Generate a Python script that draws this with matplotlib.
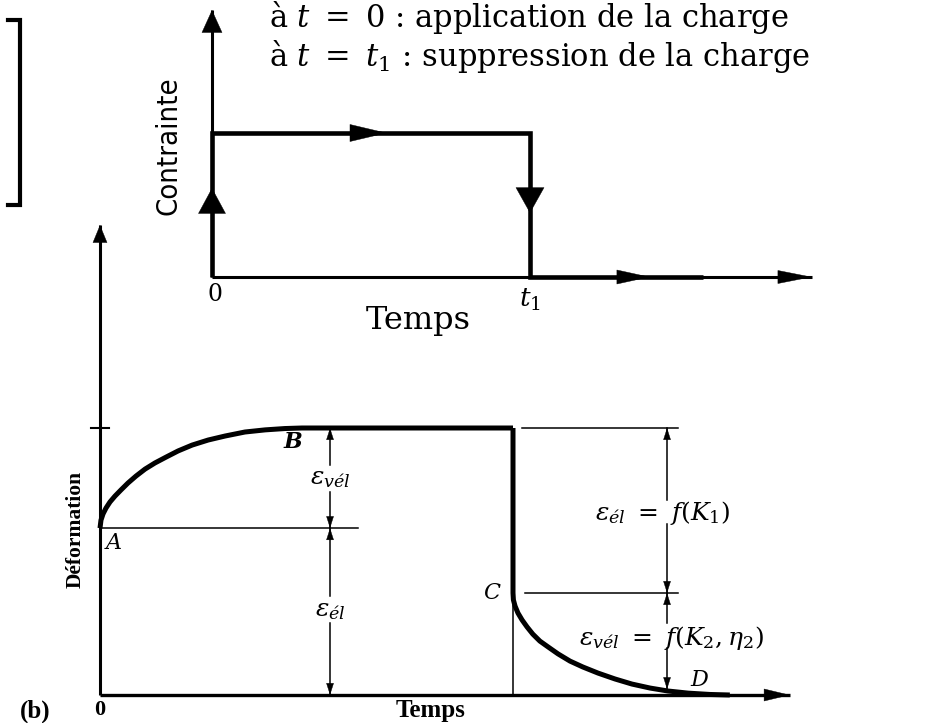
import matplotlib
matplotlib.use("Agg")
import matplotlib.pyplot as plt
from matplotlib.patches import FancyArrowPatch
from matplotlib.lines import Line2D

plt.rcParams['mathtext.fontset'] = 'dejavuserif'

# ---- (a) stress step: load applied at t = 0, removed at t = t1 ----
stress_time = [0.0, 0.0, 1.0, 1.0, 1.544]
stress_level = [0.0, 1.0, 1.0, 0.0, 0.0]
t1 = 1.0

# ---- (b) strain response ----
eps_A = 0.625          # instantaneous elastic strain (point A)
eps_B = 1.0            # strain at the end of loading (point B)
eps_C = 0.382          # strain right after unloading (point C)
eps_D = 0.022          # residual strain at D

creep_time = [0.0, 0.0024, 0.0073, 0.0145, 0.0242, 0.0363, 0.0508, 0.0678, 0.0872,
              0.109, 0.133, 0.160, 0.189, 0.223, 0.262, 0.303, 0.351, 0.400, 0.448,
              0.489, 1.0]
creep_strain = [0.625, 0.655, 0.678, 0.700, 0.723, 0.745, 0.768, 0.794, 0.820,
                0.846, 0.869, 0.891, 0.914, 0.936, 0.955, 0.970, 0.985, 0.993, 0.998,
                1.0, 1.0]

recovery_time = [1.0, 1.0, 1.001, 1.005, 1.012, 1.022, 1.034, 1.048, 1.065, 1.085,
                 1.109, 1.138, 1.169, 1.206, 1.247, 1.288, 1.332, 1.375, 1.424,
                 1.477, 1.525]
recovery_strain = [1.0, 0.382, 0.356, 0.333, 0.307, 0.281, 0.255, 0.228, 0.202, 0.180,
                   0.154, 0.127, 0.105, 0.082, 0.060, 0.041, 0.026, 0.015, 0.007,
                   0.002, 0.0]

W, H = 944, 723
fig = plt.figure(figsize=(W / 100, H / 100), dpi=100)
fig.patch.set_facecolor('white')


def head(ax, tip, direction, length_px, width_px, lw=0.3):
    """Filled arrow head with its tip at `tip`, pointing along `direction`."""
    dx, dy = direction
    base = (tip[0] - dx, tip[1] - dy)
    style = f"-|>,head_length={length_px * 0.72:.2f},head_width={width_px * 0.36:.2f}"
    ax.add_patch(FancyArrowPatch(base, tip, arrowstyle=style, mutation_scale=1,
                                 color='k', lw=lw, shrinkA=0, shrinkB=0,
                                 clip_on=False, zorder=5))


# ================= top panel =================
axT = fig.add_axes([212 / W, 1 - 277 / H, 600 / W, 267 / H])
axT.set_xlim(0, 600 / 318)
axT.set_ylim(0, 267 / 144)
axT.axis('off')
xmaxT, ymaxT = axT.get_xlim()[1], axT.get_ylim()[1]

# axes
axT.plot([0, 0], [0, ymaxT], color='k', lw=2.2, solid_capstyle='butt', clip_on=False)
axT.plot([0, xmaxT], [0, 0], color='k', lw=2.2, solid_capstyle='butt', clip_on=False)
# stress history
axT.plot(stress_time, stress_level, color='k', lw=3.3, solid_joinstyle='miter',
         solid_capstyle='butt', clip_on=False)

head(axT, (0, ymaxT), (0, 0.01), 22, 20)
head(axT, (0, 0.618), (0, 0.01), 25, 27)
head(axT, (0.55, 1.0), (0.01, 0), 36, 17)
head(axT, (t1, 0.444), (0, -0.01), 25, 28)
head(axT, (1.377, 0), (0.01, 0), 32, 14)
head(axT, (xmaxT, 0), (0.01, 0), 33, 13)

axT.text(-0.138, 0.91, 'Contrainte', rotation=90, ha='center', va='center',
         fontsize=21, family='DejaVu Sans', fontstretch='condensed', clip_on=False)
axT.text(0.01, -0.12, '0', ha='center', va='center', fontsize=17,
         family='DejaVu Serif', clip_on=False)
axT.text(0.65, -0.30, 'Temps', ha='center', va='center', fontsize=23,
         family='DejaVu Serif', clip_on=False)
axT.text(t1, -0.16, r'$t_1$', ha='center', va='center', fontsize=19, clip_on=False)

axT.text(0.18, 1.80, r'à $t\ =\ 0$ : application de la charge', ha='left',
         va='center', fontsize=22, family='DejaVu Serif', clip_on=False)
axT.text(0.18, 1.53, r'à $t\ =\ t_1$ : suppression de la charge', ha='left',
         va='center', fontsize=22, family='DejaVu Serif', clip_on=False)

# bracket at the left margin
fig.add_artist(Line2D([8 / W, 20 / W, 20 / W, 8 / W],
                      [1 - 20 / H, 1 - 20 / H, 1 - 205 / H, 1 - 205 / H],
                      color='k', lw=3.0, solid_joinstyle='miter'))

# ================= bottom panel =================
axB = fig.add_axes([100 / W, 28 / H, 690 / W, 470 / H])
axB.set_xlim(0, 690 / 413)
axB.set_ylim(0, 470 / 267)
axB.axis('off')
xmaxB, ymaxB = axB.get_xlim()[1], axB.get_ylim()[1]

axB.plot([0, 0], [0, ymaxB], color='k', lw=2.2, solid_capstyle='butt', clip_on=False)
axB.plot([0, xmaxB], [0, 0], color='k', lw=2.4, solid_capstyle='butt', clip_on=False)
axB.plot([-0.022, 0.022], [eps_B, eps_B], color='k', lw=1.5, clip_on=False)
head(axB, (0, ymaxB), (0, 0.01), 17, 14)
head(axB, (xmaxB, 0), (0.01, 0), 25, 12)

# creep under load, then recovery
axB.plot(creep_time, creep_strain, color='k', lw=3.6, solid_joinstyle='round',
         solid_capstyle='butt', clip_on=False)
axB.plot(recovery_time, recovery_strain, color='k', lw=3.6, solid_joinstyle='round',
         solid_capstyle='butt', clip_on=False)

# thin reference lines
thin = 1.1
axB.plot([0, 0.625], [eps_A, eps_A], color='k', lw=thin)
axB.plot([1.022, 1.40], [eps_B, eps_B], color='k', lw=thin)
axB.plot([1.03, 1.40], [eps_C, eps_C], color='k', lw=thin)
axB.plot([t1, t1], [0, 0.337], color='k', lw=thin)


def dimension(ax, x, lo, hi, gap_lo, gap_hi):
    ax.plot([x, x], [gap_hi, hi], color='k', lw=thin)
    ax.plot([x, x], [lo, gap_lo], color='k', lw=thin)
    head(ax, (x, hi), (0, 0.01), 11, 7)
    head(ax, (x, lo), (0, -0.01), 11, 7)


x_left = 0.557
x_right = 1.373
dimension(axB, x_left, eps_A, eps_B, 0.76, 0.86)
dimension(axB, x_left, 0.0, eps_A, 0.27, 0.37)
dimension(axB, x_right, eps_C, eps_B, 0.64, 0.73)
dimension(axB, x_right, eps_D, eps_C, 0.176, 0.27)

axB.text(x_left, 0.813, r'$\varepsilon_{vél}$', ha='center', va='center', fontsize=18)
axB.text(x_left, 0.318, r'$\varepsilon_{él}$', ha='center', va='center', fontsize=18)
axB.text(x_right - 0.01, 0.682, r'$\varepsilon_{él}\ =\ f(K_1)$', ha='center',
         va='center', fontsize=18)
axB.text(x_right + 0.01, 0.213, r'$\varepsilon_{vél}\ =\ f(K_2,\eta_2)$', ha='center',
         va='center', fontsize=18)

lbl = dict(family='DejaVu Serif', style='italic', fontsize=16, ha='center', va='center')
axB.text(0.467, 0.948, 'B', fontweight='bold', **lbl)
axB.text(0.033, 0.57, 'A', **lbl)
axB.text(0.948, eps_C, 'C', **lbl)
axB.text(1.45, 0.056, 'D', **lbl)

axB.text(-0.06, 0.62, 'Déformation', rotation=90, ha='center', va='center',
         fontsize=15.5, fontweight='bold', family='Liberation Serif', clip_on=False)
axB.text(0.0, -0.055, '0', ha='center', va='center', fontsize=16,
         fontweight='bold', family='Liberation Serif', clip_on=False)
axB.text(-0.157, -0.062, '(b)', ha='center', va='center', fontsize=18,
         fontweight='bold', family='Liberation Serif', clip_on=False)
axB.text(0.80, -0.101, 'Temps', ha='center', va='bottom', fontsize=18,
         fontweight='bold', family='Liberation Serif', clip_on=False)

fig.savefig('out.png', dpi=100, facecolor='white')
